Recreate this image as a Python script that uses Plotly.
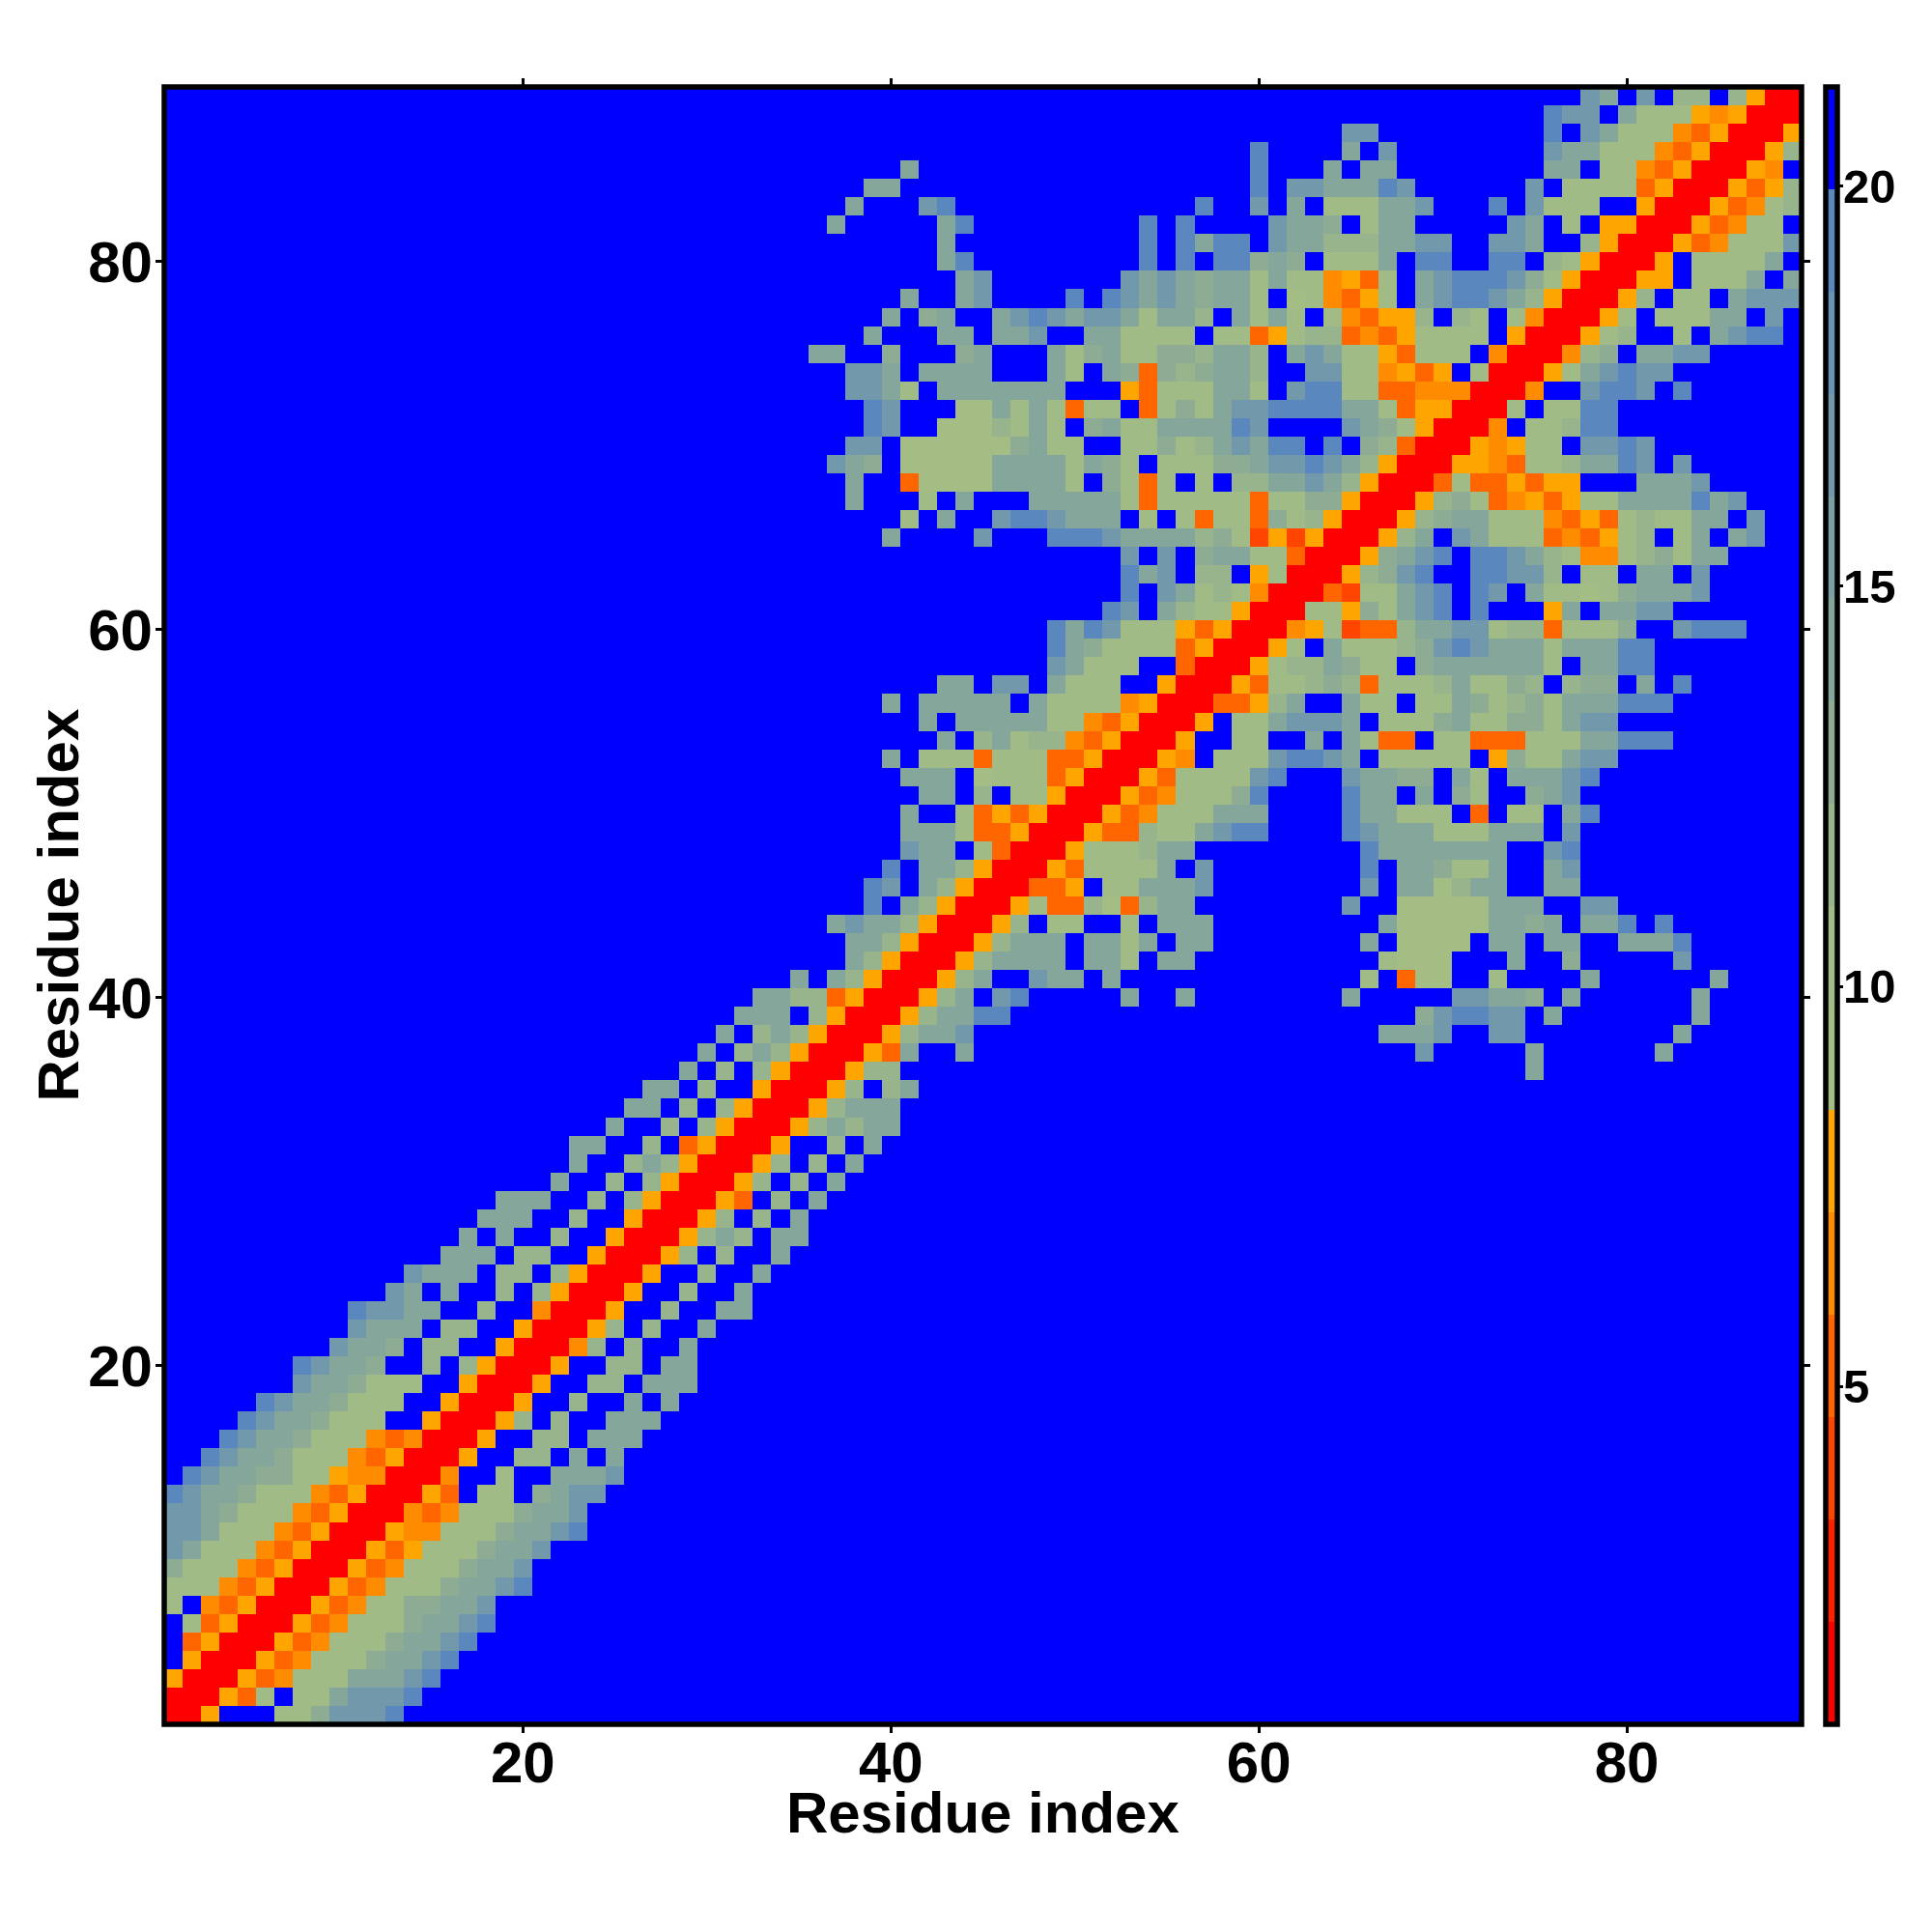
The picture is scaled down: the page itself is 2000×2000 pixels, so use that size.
import numpy as np
import plotly.graph_objects as go

N = 89
AXIS_TICKS = [20, 40, 60, 80]
BAR_TICKS = [5, 10, 15, 20]
AXIS_TITLE = "Residue index"

# Lower triangle of the symmetric distance map.
# Row r (from 1) ends on the diagonal; leading blue cells are omitted.
# Codes are bins of the colour bar, '.' is the top (blue) bin.
LOW_ROWS = [
    "1", "11", "611", ".611", ".4611", ".84611", "8.54611", "88854611",
    "b88854611", "dc88854611", "ddc88854611", "ddcb88854611", "edccb88854611",
    ".edccbb8865511", "..edccb88854611", "...edccb88854511", "....edccb888..611",
    ".....edccb888..611", ".......dccb888..611", ".......edccb..9.9611",
    ".........dccb.99..611", "..........dccc.99..611", "..........eddcc..9..511",
    "............dc.c..9.9611", ".............dccc.99.9611", "ccc.99..611",
    "c.c..9..611", "ccc..9..611", "ccc..9.9611", "c..9.9611", "c..9c9611",
    "cc..9.4611", "c..9.9611", "cc.9.9611", "cc.9..611", "c.9.9611",
    "c.9c9611", "c.9c9611", "ccc.9611", "cc994611", "c.c9611",
    "c9611", "cc9611", "cdcc9611",
]
MID_ROWS = [
    "...e.c9611", "...ed.c9611", "....e.cc9611", ".....dcc.8411", ".....ccc844611",
    ".....c..8464611", "......cc.9.88611", ".....ccc.78884611", "....c.888488844611",
    ".......c.9c89954611", "......c.ccccc8854611", "....c.ccccc.c88885611",
    ".......cc.dd.c888..611", ".............dc888..411", ".............ecb88884611",
    ".............eced88864611", "................ed.c988611", ".................e.dc898511",
]
# Rows 63 to 89: the 27 cells of columns 36-62, then columns 63 up to the diagonal.
BLOCK_LEFT = [
    ".................ecd.99.681", ".................d.d.bcc884", "....c....d...eeedcccc9b8363",
    ".....8.c..deedccc.8.84884b8", "..c...8.c...ccccc8488888488", "..c..47777cccc8.b848.8.99cc",
    ".dcb.77777cccc8cb8.888bbcdd", "..dd.777777bc88..88b89cdcee", "...ed..77798c8.bc88cccced..",
    "...ed...77c8c8488.48b8cddee", "..ddc8.ccccccc...64888cc8.d", "..ddc.cccc...c8.cb4b9bcc9..",
    "cc..b...bc...c8bc88bb9cc9.c", "...c...cc.ccd..cc8888.88468", "....c.bc..cdedcddc8cc9.c8c8",
    ".....c..cd....e.edcdcbcc8.7", "........cd.......dcdcbcc8c8", ".......ce.........e.e.eebcb",
    ".......c..........e.ecee.dc", ".c.....ce.........e.e....dc", "..c...de.............e..d.c",
    "...cc...................e.d", ".....c..................e..", "........................e..",
    "...........................", "...........................", "...........................",
]
BLOCK_RIGHT = [
    "1", "11", "611", "9611", "bb611", "dc9611", "edc9611", ".e.b9411", "..dcb8611",
    "eecc846611", "ee884455511", "dd885646.811", "dc8864888.511", "9945468888.611",
    ".854669.98.8511", "85468.cdeedc9611", "85648.cdeeedb8611", ".888c.ee..ee.98611",
    "c999ccdd..ddc..9611", "cb.8cc.....dc.8.6611", ".888ccd...e.d888..611",
    "dccced......d.88884611", ".c.cc........cc.8854611", "..c.d........dcc88854611",
    "..dd.........e.dc88854611", ".............edd.c88865611", "...............dc.d.99.9611",
]

LEVEL_COLOURS = [
    "#ff0000", "#ff2000", "#ff4500", "#ff6600", "#ff8c00", "#ffa500", "#a3bd85", "#a1bb87",
    "#98b48c", "#8eac93", "#85a69a", "#7c9fa3", "#7298ac", "#6891b3", "#5a87bd", "#0000ff",
]
BIN_OF_CODE = {"1": 1, "3": 3, "4": 4, "5": 5, "6": 6, "7": 7, "8": 8, "9": 9,
               "b": 10, "c": 11, "d": 13, "e": 15, ".": 16}
Z_MIN, Z_MAX = 0.78, 21.24

rows_text = LOW_ROWS + MID_ROWS + [a + b for a, b in zip(BLOCK_LEFT, BLOCK_RIGHT)]
bin_width = (Z_MAX - Z_MIN) / len(LEVEL_COLOURS)
Z = np.full((N, N), Z_MIN + 15.5 * bin_width)
for r, text in enumerate(rows_text, start=1):
    for c, code in enumerate(text.rjust(r, "."), start=1):
        v = Z_MIN + (BIN_OF_CODE[code] - 0.5) * bin_width
        Z[r - 1, c - 1] = v
        Z[c - 1, r - 1] = v

scale = []
for i, col in enumerate(LEVEL_COLOURS):
    scale.append([i / len(LEVEL_COLOURS), col])
    scale.append([(i + 1) / len(LEVEL_COLOURS), col])

FONT = "Liberation Sans"
PLOT_W = 1695.5
title_font = dict(family=FONT, size=60, color="black", weight=700)
axis = dict(
    range=[0.5, 89.5], tickvals=AXIS_TICKS, ticks="outside", ticklen=8, tickwidth=3,
    tickcolor="black", showline=True, linecolor="black", linewidth=1, mirror="ticks",
    showgrid=False, zeroline=False,
    tickfont=dict(family=FONT, size=60, color="black", weight=700),
)
fig = go.Figure(go.Heatmap(
    x=list(range(1, N + 1)), y=list(range(1, N + 1)), z=Z,
    zmin=Z_MIN, zmax=Z_MAX, colorscale=scale,
    colorbar=dict(
        tickvals=BAR_TICKS, ticks="outside", ticklen=4, tickwidth=3, tickcolor="black",
        showticklabels=False,
        outlinecolor="black", outlinewidth=5.5, thickness=11.5, thicknessmode="pixels",
        len=1, lenmode="fraction", y=0.5, yanchor="middle", ypad=0, xpad=0,
        x=1 + (1890 - 1865) / PLOT_W, xanchor="left",
    ),
))
annotations = [
    dict(text=AXIS_TITLE, xref="paper", yref="paper", x=0.5, y=-92 / PLOT_W, yanchor="middle",
         xanchor="center", showarrow=False, font=title_font),
    dict(text=AXIS_TITLE, xref="paper", yref="paper", x=-110 / PLOT_W, y=0.5, yanchor="middle",
         xanchor="center", textangle=-90, showarrow=False, font=title_font),
]
for tick in BAR_TICKS:
    annotations.append(dict(
        text=str(tick), xref="paper", yref="paper", x=1 + 41 / PLOT_W,
        y=(tick - Z_MIN) / (Z_MAX - Z_MIN), xanchor="left", yanchor="middle", showarrow=False,
        font=dict(family=FONT, size=49, color="black", weight=700),
    ))
fig.update_layout(
    width=2000, height=2000, paper_bgcolor="white", plot_bgcolor="white",
    margin=dict(l=169.5, r=135, t=90, b=214.5, autoexpand=False),
    xaxis=dict(axis, ticklabelstandoff=-21),
    yaxis=dict(axis, ticklabelstandoff=-9),
    annotations=annotations,
    shapes=[dict(type="rect", xref="paper", yref="paper", x0=0, x1=1, y0=0, y1=1,
                 line=dict(color="black", width=5.5), layer="above")],
)
fig.write_html("out.html", config={"displayModeBar": False},
               post_script="document.body.style.margin='0';")
